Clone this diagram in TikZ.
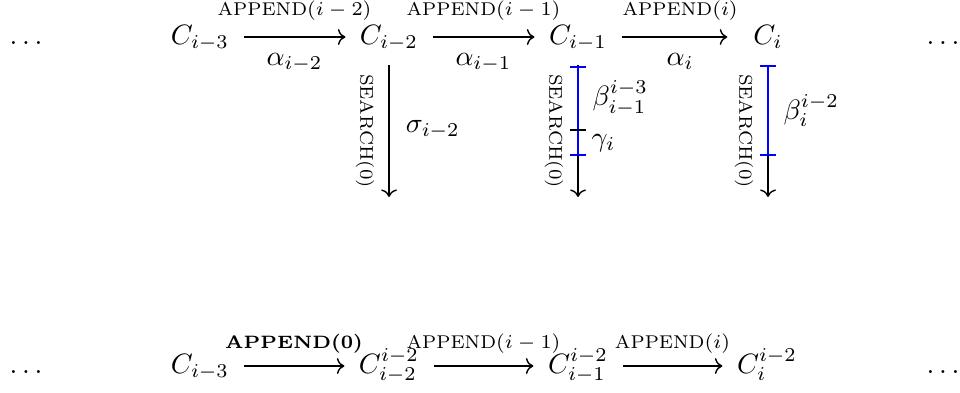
\documentclass[tikz,border=0pt]{standalone}
\usetikzlibrary{arrows.meta}
\newcommand\apnd{APPEND}
\newcommand\srchtxt{SEARCH(0)}
\newcommand\labfont{\fontsize{6.6pt}{7.5pt}\selectfont}
\newcommand\bapnd{{\bfseries\fontsize{6.4pt}{7pt}\selectfont APPEND\fontsize{6.8pt}{7pt}\selectfont(0)}}
\begin{document}
\begin{tikzpicture}[x=0.357pt, y=-0.357pt,
  cnode/.style={anchor=base, inner xsep=5pt, inner ysep=2pt},
  arr/.style={-{Computer Modern Rightarrow}, line width=0.5pt},
  uplab/.style={midway, anchor=base, inner sep=0pt, font=\labfont},
  dnlab/.style={midway, anchor=base, inner sep=0pt, yshift=-10pt},
  srch/.style={midway, rotate=-90, anchor=north, inner xsep=0pt, inner ysep=5pt, font=\labfont},
  interval/.style={blue, line width=0.8pt, {Bar[width=6pt]}-{Bar[width=6pt]}},
  tickmark/.style={black, line width=0.7pt},
  sidelab/.style={anchor=west}
]
\useasboundingbox (0,0) rectangle (960,392);

% top row
\node[cnode] (t0) at (26,44) {$\dots$};
\node[cnode] (t1) at (200,44) {$C_{i-3}$};
\node[cnode] (t2) at (389,44) {$C_{i-2}$};
\node[cnode] (t3) at (578,44) {$C_{i-1}$};
\node[cnode] (t4) at (768,44) {$C_i$};
\node[cnode] (t5) at (943,44) {$\dots$};

\draw[arr] ([yshift=2.5pt]t1.base east) --
  node[uplab, yshift=7.5pt] (tl1) {\apnd$(i-2)$}
  node[dnlab] (ta1) {$\alpha_{i-2}$}
  ([yshift=2.5pt]t2.base west);
\draw[arr] ([yshift=2.5pt]t2.base east) --
  node[uplab, yshift=7.5pt] (tl2) {\apnd$(i-1)$}
  node[dnlab] (ta2) {$\alpha_{i-1}$}
  ([yshift=2.5pt]t3.base west);
\draw[arr, shorten >=4.1pt] ([yshift=2.5pt]t3.base east) --
  node[uplab, yshift=7.5pt] (tl3) {\apnd$(i)$}
  node[dnlab] (ta3) {$\alpha_{i}$}
  ([yshift=2.5pt]t4.base west);

% vertical arrows
\coordinate (e2) at (389,197);
\coordinate (e3) at (578,197);
\coordinate (e4) at (768,197);
\coordinate (c3a) at (578,66);
\coordinate (c3m) at (578,130);
\coordinate (c3b) at (578,156);
\coordinate (c4a) at (768,65);
\coordinate (c4b) at (768,156);

\draw[arr] ([yshift=-7.5pt]t2.base) -- node[srch] (s2) {\srchtxt}
  node[midway, anchor=base west, xshift=2.4pt, yshift=-0.4pt] (sg2) {$\sigma_{i-2}$} (e2);
\draw[arr] ([yshift=-7.5pt]t3.base) -- node[srch] (s3) {\srchtxt} (e3);
\draw[arr] ([yshift=-7.5pt]t4.base) -- node[srch] (s4) {\srchtxt} (e4);

\draw[interval] (c3a) -- (c3b);
\draw[tickmark] ([xshift=-2.9pt]c3m) -- ([xshift=2.9pt]c3m);
\path (c3a) -- node[sidelab, xshift=1.7pt] (bt3) {$\beta^{i-3}_{i-1}$} (c3m);
\path (c3m) -- node[sidelab, xshift=1.3pt] (gm3) {$\gamma_i$} (c3b);

\draw[interval] (c4a) -- (c4b);
\path (c4a) -- node[sidelab, xshift=2pt] (bt4) {$\beta^{i-2}_{i}$} (c4b);

% bottom row
\node[cnode] (b0) at (26,373) {$\dots$};
\node[cnode] (b1) at (200,373) {$C_{i-3}$};
\node[cnode] (b2) at (389,373) {$C^{i-2}_{i-2}$};
\node[cnode] (b3) at (578,373) {$C^{i-2}_{i-1}$};
\node[cnode] (b4) at (767,373) {$C^{i-2}_{i}$};
\node[cnode] (b5) at (943,373) {$\dots$};

\draw[arr] ([yshift=2.5pt]b1.base east) --
  node[uplab, yshift=6.4pt] (bl1) {\bapnd}
  ([yshift=2.5pt]b2.base west);
\draw[arr] ([yshift=2.5pt]b2.base east) --
  node[uplab, yshift=6.4pt] (bl2) {\apnd$(i-1)$}
  ([yshift=2.5pt]b3.base west);
\draw[arr] ([yshift=2.5pt]b3.base east) --
  node[uplab, yshift=6.4pt] (bl3) {\apnd$(i)$}
  ([yshift=2.5pt]b4.base west);
\end{tikzpicture}
\end{document}
